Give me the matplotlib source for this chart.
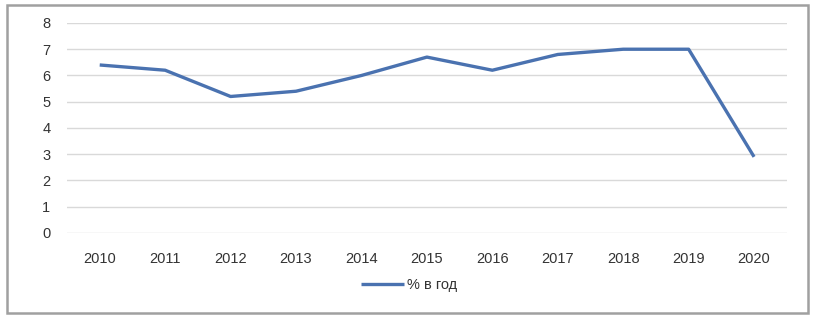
import matplotlib.pyplot as plt
from matplotlib.patches import Rectangle

years = [2010, 2011, 2012, 2013, 2014, 2015, 2016, 2017, 2018, 2019, 2020]
rate = [6.4, 6.2, 5.2, 5.4, 6.0, 6.7, 6.2, 6.8, 7.0, 7.0, 2.9]
series_name = "% в год"

plt.rcParams['font.family'] = ['Liberation Sans', 'DejaVu Sans']

fig = plt.figure(figsize=(8.23, 3.16), dpi=100)
ax = fig.add_axes([0.0814, 0.2627, 0.8746, 0.6646])

x = list(range(len(years)))
ax.plot(x, rate, color='#4A72B0', lw=2.4, label=series_name, solid_capstyle='butt')

ax.set_xlim(-0.5, len(years) - 0.5)
ax.set_ylim(0, 8)
ax.set_yticks(range(0, 9))
ax.set_xticks(x)
ax.set_xticklabels([str(y) for y in years])
ax.grid(axis='y', color='#D9D9D9', lw=1)
ax.set_axisbelow(True)
for s in ax.spines.values():
    s.set_visible(False)
ax.tick_params(length=0, labelsize=10.5, colors='#333333', pad=12)
ax.tick_params(axis='x', pad=14)

leg = fig.legend(loc='center', bbox_to_anchor=(0.497, 0.098), frameon=False,
                 fontsize=10.5, handlelength=3, handletextpad=0.2, labelcolor='#333333')

fig.patches.append(Rectangle((0.009, 0.01), 0.973, 0.975, transform=fig.transFigure,
                             fill=False, edgecolor='#A0A0A0', lw=1.8))

fig.savefig('out.png', dpi=100)
